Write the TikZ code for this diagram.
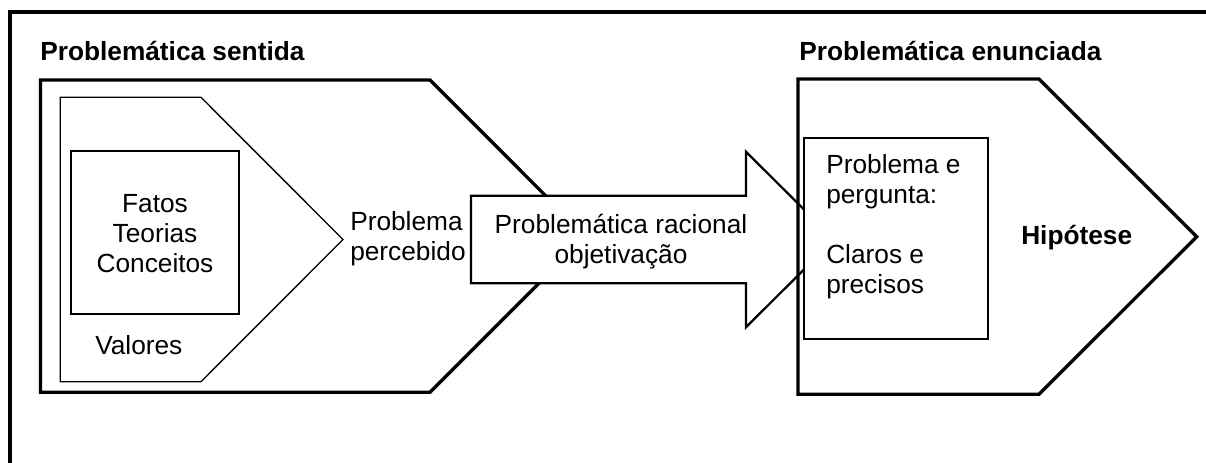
\documentclass[tikz,border=0pt]{standalone}
\usepackage{fontspec}
\setmainfont{Liberation Sans}
\begin{document}
\begin{tikzpicture}[x=0.75pt,y=-0.75pt,
  frameline/.style={line width=3pt},
  bigshape/.style={line width=2.5pt, line join=miter, fill=white},
  thinshape/.style={line width=1pt, line join=miter},
  boxline/.style={line width=1.5pt},
  arrowshape/.style={line width=1.7pt, line join=miter, fill=white},
  txt/.style={inner sep=0pt, anchor=base, font=\fontsize{19.7}{22.5}\selectfont},
  txtl/.style={txt, anchor=base west, align=left},
  txtc/.style={txt, align=center},
  head/.style={txtl, font=\fontsize{19.7}{22.5}\selectfont\bfseries}]
\useasboundingbox (0,0) rectangle (1206,463);
\clip (0,0) rectangle (1206,463);
\fill[white] (0,0) rectangle (1206,463);

% outer frame, open to the right and to the bottom
\draw[frameline] (10,470) -- (10,12.5) -- (1215,12.5);

% left block: perceived problem
\draw[bigshape] (40.5,80) -- (430,80) -- (586,236.2) -- (430,392.3) -- (40.5,392.3) -- cycle;
\draw[thinshape] (60.3,97.3) -- (201,97.3) -- (343,239.5) -- (201,381.7) -- (60.3,381.7) -- cycle;
\draw[boxline] (71,151) rectangle (239.3,314.3);

% multi-line nodes are anchored at the baseline of their last line
\node[head] (sentida) at (40,61) {Problemática sentida};
\node[txtc] (fatos) at (155,272.7) {Fatos\\Teorias\\Conceitos};
\node[txtl] (valores) at (95,354) {Valores};
\node[txtl] (percebido) at (350,260.7) {Problema\\percebido};

% arrow: rational problematic
\draw[arrowshape] (471,195.7) -- (746,195.7) -- (746,151.7) -- (834,239.5)
  -- (746,327.3) -- (746,283.3) -- (471,283.3) -- cycle;
\node[txtc] (racional) at (621,264) {Problemática racional\\objetivação};

% right block: stated problem
\draw[bigshape, fill=none] (798,79) -- (1039,79) -- (1196.7,236.7) -- (1039,394.3) -- (798,394.3) -- cycle;
\draw[boxline, fill=white] (804.3,137.7) rectangle (988.3,339);

\node[head] (enunciada) at (799,61) {Problemática enunciada};
\node[txtl] (pergunta) at (826,293.3) {Problema e\\pergunta:\\[22.5pt]Claros e\\precisos};
\node[head] (hipotese) at (1021,245) {Hipótese};
\end{tikzpicture}
\end{document}
